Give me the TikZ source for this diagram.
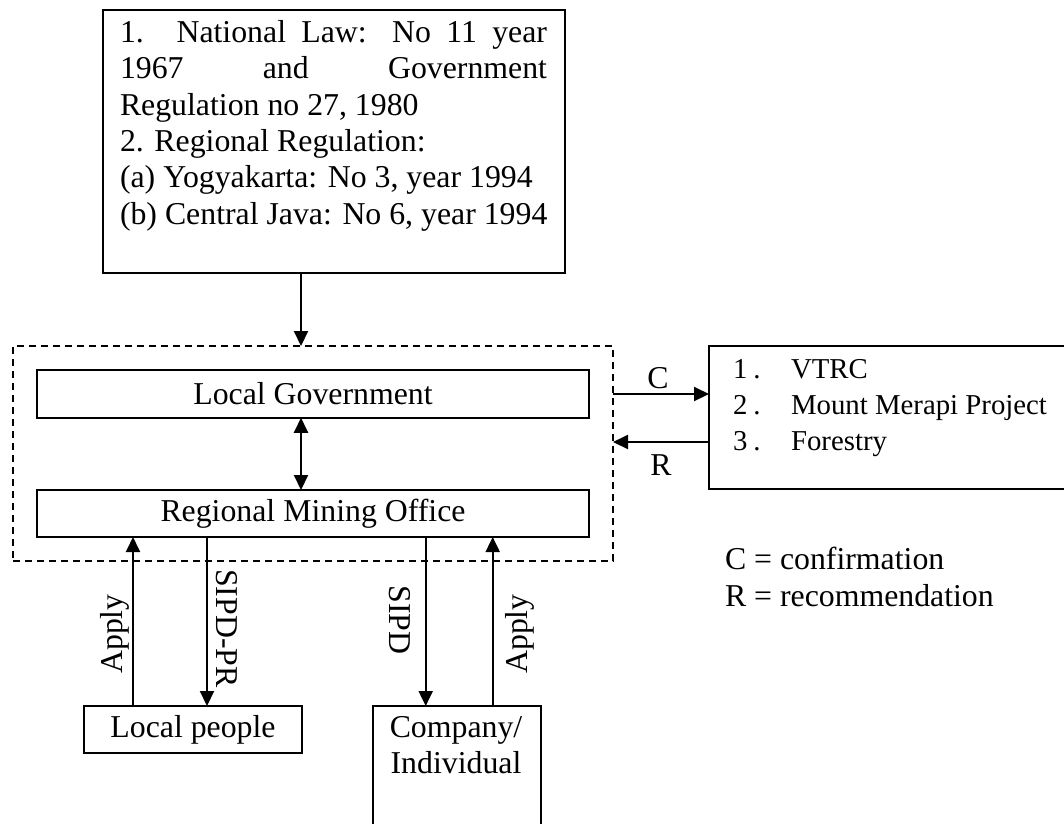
\documentclass[tikz,border=0pt]{standalone}
\usepackage{fontspec}
\setmainfont{Liberation Serif}
\usetikzlibrary{arrows.meta}
\begin{document}
\begin{tikzpicture}[x=1pt,y=-1pt,
  every node/.style={font=\fontsize{31.8}{36.5}\selectfont, inner sep=0pt, outer sep=0pt},
  box/.style={draw, line width=2.2pt},
  grpbox/.style={draw, line width=2pt, dash pattern=on 7pt off 5pt},
  arr/.style={line width=2pt, -{Triangle[length=15pt,width=14pt]}},
  darr/.style={line width=2pt, {Triangle[length=15pt,width=14pt]}-{Triangle[length=15pt,width=14pt]}},
  txt/.style={anchor=base west},
  smalltxt/.style={anchor=base west, font=\fontsize{28.8}{36}\selectfont},
  lbl/.style={anchor=center}]
\useasboundingbox (0,0) rectangle (1064,823);
\clip (0,0) rectangle (1064,823);
\fill[white] (0,0) rectangle (1064,823);

% top box
\node[box, minimum width=462pt, minimum height=263pt] (law) at (334,141.5) {};
\node[txt] (l1) at (120,42) {\makebox[427pt][s]{1. National Law: No 11 year}};
\node[txt] (l2) at (120,78) {\makebox[427pt][s]{1967 and Government}};
\node[txt] (l3) at (120,115) {Regulation no 27, 1980};
\node[txt] (l4) at (120,151) {2. Regional Regulation:};
\node[txt] (l5) at (120,187) {(a) Yogyakarta: No 3, year 1994};
\node[txt] (l6) at (120,224) {(b) Central Java: No 6, year 1994};

% dashed group
\node[grpbox, minimum width=600pt, minimum height=215pt] (grp) at (313,453.5) {};
\node[box, minimum width=552pt, minimum height=47.5pt] (lg) at (313,394) {Local Government};
\node[box, minimum width=552pt, minimum height=47pt] (rmo) at (313,513.5) {Regional Mining Office};

% external box
\node[box, minimum width=366pt, minimum height=143pt] (ext) at (892,417.5) {};
\node[smalltxt] (e1n) at (733,378) {1\kern6pt.};
\node[smalltxt] (e1) at (791,378) {VTRC};
\node[smalltxt] (e2n) at (733,414) {2\kern6pt.};
\node[smalltxt] (e2) at (791,414) {Mount Merapi Project};
\node[smalltxt] (e3n) at (733,450) {3\kern6pt.};
\node[smalltxt] (e3) at (791,450) {Forestry};

% legend
\node[txt] (legC) at (725,569) {C = confirmation};
\node[txt] (legR) at (725,606) {R = recommendation};

% bottom boxes
\node[box, minimum width=218pt, minimum height=47pt] (lp) at (193,729.5) {Local people};
\node[box, minimum width=168pt, minimum height=144pt] (co) at (457,778) {};
\node[anchor=base] (co1) at (456,737) {Company/};
\node[anchor=base] (co2) at (456,773) {Individual};

% helper coordinates
\coordinate (xM) at (301,0);
\coordinate (xA1) at (133,0);
\coordinate (xS1) at (207,0);
\coordinate (xS2) at (425.7,0);
\coordinate (xA2) at (492.7,0);
\coordinate (yC) at (0,394);
\coordinate (yR) at (0,442);

% connectors
\draw[arr] (law.south -| xM) -- (grp.north -| xM);
\draw[darr] (lg.south -| xM) -- (rmo.north -| xM);
\draw[arr] (grp.east |- yC) -- (ext.west |- yC);
\draw[arr] (ext.west |- yR) -- (grp.east |- yR);
\draw[arr] (lp.north -| xA1) -- (rmo.south -| xA1);
\draw[arr] (rmo.south -| xS1) -- (lp.north -| xS1);
\draw[arr] (rmo.south -| xS2) -- (co.north -| xS2);
\draw[arr] (co.north -| xA2) -- (rmo.south -| xA2);

% connector labels
\node[lbl] (lC) at (658,378) {C};
\node[lbl] (lR) at (661,465) {R};
\node[lbl, rotate=90] (lAp1) at (114.5,634) {Apply};
\node[lbl, rotate=-90] (lSPR) at (226.5,628.5) {SIPD-PR};
\node[lbl, rotate=-90] (lS) at (400,620) {SIPD};
\node[lbl, rotate=90] (lAp2) at (520,634) {Apply};
\end{tikzpicture}
\end{document}
